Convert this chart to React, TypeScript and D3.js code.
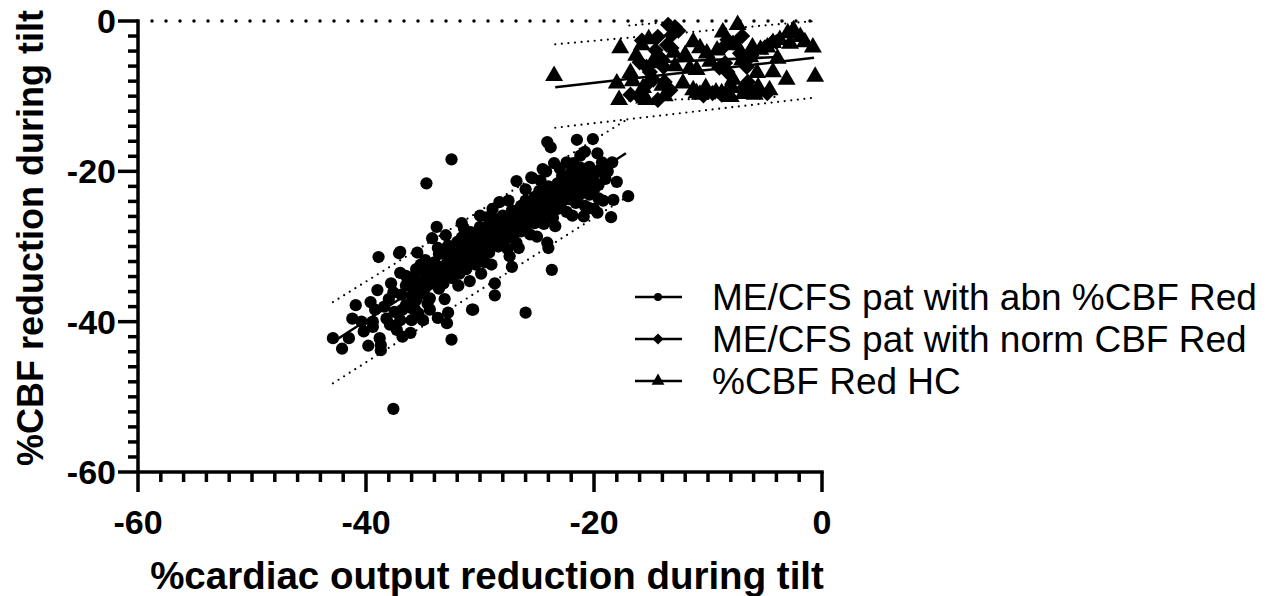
import React from 'react';
import * as d3 from 'd3';

// ME/CFS patients with abnormal %CBF reduction (circles)
const abnPoints: [number, number][] = [
  [-42.9, -42.2], [-42.1, -43.6], [-41.5, -42.2], [-39.8, -43.2], [-38.8, -42.2], [-38.7, -43.1],
  [-38.7, -43.8], [-37.6, -51.6], [-40.9, -37.8], [-40.4, -40.0], [-39.4, -40.0], [-39.4, -40.7],
  [-39.6, -37.4], [-39.2, -38.4], [-39.0, -35.8], [-37.8, -34.9], [-37.0, -33.5], [-37.5, -38.7],
  [-36.8, -38.4], [-37.3, -41.1], [-36.8, -42.0], [-36.1, -41.5], [-37.0, -39.8], [-36.0, -39.8],
  [-35.0, -39.8], [-35.7, -38.4], [-34.4, -38.4], [-33.7, -39.5], [-32.9, -40.2], [-32.8, -38.8],
  [-30.7, -38.4], [-38.9, -31.4], [-37.1, -30.9], [-37.0, -30.7], [-36.0, -34.1], [-35.4, -36.0],
  [-35.3, -34.7], [-32.5, -42.4], [-28.7, -34.9], [-28.7, -36.5], [-27.2, -32.7], [-26.0, -38.8],
  [-41.2, -39.6], [-40.2, -41.3], [-38.2, -39.6], [-38.0, -37.0], [-30.6, -38.4],
  [-32.5, -18.4], [-34.7, -21.6], [-24.1, -16.1], [-23.8, -16.8], [-21.5, -15.8], [-20.1, -15.7],
  [-20.8, -17.4], [-19.7, -17.6], [-19.3, -18.8], [-18.4, -18.8], [-18.0, -21.4], [-18.3, -23.8],
  [-17.0, -23.3], [-18.5, -26.1], [-19.7, -25.5], [-20.4, -24.9], [-26.8, -21.3], [-25.5, -20.8],
  [-28.3, -24.1], [-24.1, -29.5], [-24.0, -30.2], [-23.7, -33.1], [-33.8, -27.4], [-31.6, -26.9],
  [-34.2, -28.9], [-33.7, -30.2], [-29.3, -26.1], [-25.4, -20.9], [-24.7, -21.2], [-24.2, -20.0],
  [-23.5, -18.9], [-22.4, -18.8], [-21.8, -18.9],
  [-36.5, -35.2], [-36.5, -37.8], [-36.5, -33.9], [-36.0, -36.6], [-36.0, -34.5], [-36.0, -38.2],
  [-35.6, -33.0], [-35.6, -35.9], [-35.6, -37.1], [-35.2, -34.8], [-35.2, -32.4], [-35.2, -36.3],
  [-34.8, -33.6], [-34.8, -35.5], [-34.8, -31.8], [-34.4, -35.0], [-34.4, -33.2], [-34.4, -36.9],
  [-34.0, -32.1], [-34.0, -34.4], [-34.0, -33.5], [-33.6, -31.0], [-33.6, -33.8], [-33.6, -35.6],
  [-33.2, -32.6], [-33.2, -30.4], [-33.2, -34.9], [-32.8, -33.5], [-32.8, -31.7], [-32.8, -29.9],
  [-32.4, -30.8], [-32.4, -32.9], [-32.4, -34.2], [-32.0, -31.5], [-32.0, -29.4], [-32.0, -33.3],
  [-31.6, -32.0], [-31.6, -30.2], [-31.6, -28.8], [-31.2, -30.9], [-31.2, -33.0], [-31.2, -29.0],
  [-30.8, -29.8], [-30.8, -31.6], [-30.8, -28.1], [-30.4, -30.5], [-30.4, -32.4], [-30.4, -28.6],
  [-30.0, -29.1], [-30.0, -31.0], [-30.0, -27.4], [-29.6, -30.2], [-29.6, -28.3], [-29.6, -32.1],
  [-29.2, -28.9], [-29.2, -27.0], [-29.2, -30.8], [-28.8, -29.6], [-28.8, -27.8], [-28.8, -26.3],
  [-28.4, -28.3], [-28.4, -30.0], [-28.4, -26.8], [-28.0, -27.5], [-28.0, -29.2], [-28.0, -25.9],
  [-27.6, -28.1], [-27.6, -26.4], [-27.6, -30.3], [-27.2, -26.9], [-27.2, -28.8], [-27.2, -25.2],
  [-26.8, -27.4], [-26.8, -25.8], [-26.8, -29.5], [-26.4, -26.2], [-26.4, -24.6], [-26.4, -28.0],
  [-26.0, -25.3], [-26.0, -27.6], [-26.0, -23.9], [-25.6, -26.0], [-25.6, -24.4], [-25.6, -28.4],
  [-25.2, -25.1], [-25.2, -23.4], [-25.2, -26.9], [-24.8, -24.2], [-24.8, -26.3], [-24.8, -22.6],
  [-24.4, -25.0], [-24.4, -23.1], [-24.4, -27.0], [-24.0, -23.8], [-24.0, -22.0], [-24.0, -25.7],
  [-23.6, -24.5], [-23.6, -22.7], [-23.6, -26.2], [-23.2, -23.0], [-23.2, -21.6], [-23.2, -25.0],
  [-22.8, -22.2], [-22.8, -24.0], [-22.8, -20.6], [-22.4, -23.3], [-22.4, -21.2], [-22.4, -25.4],
  [-22.0, -21.6], [-22.0, -23.4], [-22.0, -20.1], [-21.6, -22.5], [-21.6, -20.8], [-21.6, -24.2],
  [-21.2, -21.0], [-21.2, -23.0], [-21.2, -19.5], [-20.8, -22.0], [-20.8, -20.2], [-20.8, -24.6],
  [-20.4, -21.3], [-20.4, -19.4], [-20.4, -23.1], [-20.0, -20.5], [-20.0, -22.4], [-20.0, -25.0],
  [-19.6, -21.8], [-19.6, -19.9], [-19.6, -23.6],
  [-35.8, -36.0], [-35.8, -34.0], [-35.0, -35.4], [-35.0, -33.1], [-34.2, -34.6], [-34.2, -32.7],
  [-33.4, -33.1], [-33.4, -35.0], [-32.6, -32.0], [-32.6, -34.0], [-31.8, -31.2], [-31.8, -33.6],
  [-31.0, -30.0], [-31.0, -32.2], [-30.2, -29.5], [-30.2, -31.4], [-29.4, -29.0], [-29.4, -30.9],
  [-28.6, -28.5], [-28.6, -26.9], [-27.8, -27.0], [-27.8, -28.9], [-27.0, -26.5], [-27.0, -28.2],
  [-26.2, -25.8], [-26.2, -27.1], [-25.4, -25.0], [-25.4, -26.7], [-24.6, -24.0], [-24.6, -25.6],
  [-23.8, -23.3], [-23.8, -24.9], [-23.0, -22.5], [-23.0, -24.2], [-22.2, -21.9], [-22.2, -23.7],
  [-21.4, -21.5], [-21.4, -23.4], [-20.6, -20.9], [-20.6, -22.8],
  [-36.9, -36.4], [-37.6, -36.1], [-38.4, -38.0], [-37.9, -40.4], [-35.4, -38.9], [-34.6, -37.6],
  [-33.1, -37.0], [-31.9, -35.2], [-30.9, -34.6], [-29.9, -33.6], [-29.0, -32.4], [-27.4, -31.3],
  [-26.6, -30.2], [-25.0, -28.7], [-23.4, -27.3], [-21.9, -25.9], [-20.9, -26.0], [-19.2, -23.9],
  [-19.0, -21.0], [-18.8, -20.0], [-33.0, -28.5], [-31.4, -27.6], [-30.0, -25.9], [-28.9, -25.0],
  [-27.5, -23.9], [-26.0, -22.4], [-24.5, -19.7], [-23.0, -19.6], [-21.2, -17.9], [-35.5, -30.8],
];

// ME/CFS patients with normal CBF reduction (diamonds)
const normPoints: [number, number][] = [
  [-12.9, -0.8], [-13.2, -1.9], [-13.6, -3.2], [-13.2, -3.6], [-14.4, -2.1], [-14.6, -3.9],
  [-16.0, -5.5], [-15.4, -6.1], [-15.1, -6.8], [-14.2, -4.9], [-13.9, -6.1], [-14.8, -7.8],
  [-13.8, -8.1], [-14.4, -10.5], [-16.8, -9.8], [-16.0, -10.1], [-9.6, -9.6], [-8.8, -9.8],
  [-8.5, -5.6], [-8.3, -6.8], [-7.8, -2.9], [-7.2, -4.3], [-6.6, -6.1], [-6.5, -8.1],
  [-6.8, -8.8], [-4.8, -9.6], [-4.4, -2.9], [-4.0, -2.8], [-8.3, -2.5],
  [-15.8, -2.6], [-13.5, -0.5], [-12.6, -1.3], [-14.0, -5.2], [-15.4, -8.5], [-13.3, -9.2],
  [-9.0, -6.2], [-8.6, -3.4], [-7.0, -2.0], [-6.2, -4.6], [-5.5, -9.4], [-10.4, -9.9], [-5.0, -3.5],
];

// healthy controls (triangles)
const hcPoints: [number, number][] = [
  [-23.5, -7.3], [-17.7, -3.6], [-18.0, -8.3], [-17.8, -10.5], [-16.8, -6.9], [-15.8, -3.2],
  [-15.4, -10.5], [-15.7, -8.9], [-10.7, -3.6], [-11.0, -9.6], [-12.2, -8.3], [-11.6, -6.3],
  [-10.1, -4.3], [-9.2, -3.9], [-8.7, -1.5], [-7.4, -0.5], [-6.1, -3.5], [-5.7, -6.9],
  [-6.1, -9.6], [-4.3, -6.8], [-3.1, -7.8], [-2.5, -1.2], [-1.9, -2.1], [-0.8, -3.5],
  [-0.6, -7.4], [-8.8, -9.6], [-7.9, -8.9], [-7.8, -7.8], [-4.8, -3.5], [-4.3, -2.9],
  [-3.7, -2.5], [-3.0, -1.6], [-11.3, -9.2], [-10.7, -9.8], [-8.1, -8.8], [-5.6, -8.8],
  [-5.9, -9.8], [-7.0, -5.2], [-16.3, -4.6], [-15.2, -2.4], [-14.9, -5.6], [-14.0, -8.6],
  [-16.6, -8.0], [-13.8, -10.0], [-15.6, -10.3], [-12.9, -6.0], [-12.0, -4.5], [-11.3, -2.8],
  [-10.2, -8.9], [-9.8, -5.4], [-9.3, -9.5], [-8.0, -10.1], [-6.9, -9.7], [-6.3, -4.8],
  [-5.4, -3.8], [-4.6, -9.2], [-3.9, -5.0], [-2.8, -3.0], [-1.5, -2.8], [-13.0, -4.2],
  [-11.0, -6.5], [-7.5, -3.2],
];

// fitted lines and 95% prediction bands (end points)
const abnFit: [number, number][] = [[-42.9, -42.7], [-17.2, -17.6]];
const abnUpper: [number, number][] = [[-42.9, -37.4], [-17.0, -13.0]];
const abnLower: [number, number][] = [[-42.9, -48.2], [-17.0, -23.3]];
const normFit: [number, number][] = [[-16.0, -5.6], [-4.0, -4.8]];
const normUpper: [number, number][] = [[-16.9, -0.6], [-12.4, 0.0]];
const normLower: [number, number][] = [[-16.9, -10.6], [-4.0, -10.1]];
const hcFit: [number, number][] = [[-23.4, -8.8], [-0.7, -4.9]];
const hcUpper: [number, number][] = [[-23.4, -3.1], [-0.7, 0.0]];
const hcLower: [number, number][] = [[-23.4, -14.2], [-0.7, -10.2]];

const xMajor = [-60, -40, -20, 0];
const yMajor = [0, -20, -40, -60];
const legendLabels = ['ME/CFS pat with abn %CBF Red', 'ME/CFS pat with norm CBF Red', '%CBF Red HC'];

const FONT = '"Liberation Sans", Arial, Helvetica, sans-serif';

export default function App() {
  const x = d3.scaleLinear().domain([-60, 0]).range([138, 822]);
  const y = d3.scaleLinear().domain([-60, 0]).range([472, 21]);
  const line = d3.line<[number, number]>().x(d => x(d[0])).y(d => y(d[1]));

  const circlePath = d3.symbol().type(d3.symbolCircle).size(118)()!;
  const diamondPath = d3.symbol().type(d3.symbolSquare).size(130)()!;
  const trianglePath = d3.symbol().type(d3.symbolTriangle).size(140)()!;
  const circleSm = d3.symbol().type(d3.symbolCircle).size(50)()!;
  const diamondSm = d3.symbol().type(d3.symbolSquare).size(62)()!;
  const triangleSm = d3.symbol().type(d3.symbolTriangle).size(72)()!;

  const minor = d3.range(-60, 0.1, 2);
  const bandStyle = { fill: 'none', stroke: '#000', strokeWidth: 2.2, strokeLinecap: 'round' as const, strokeDasharray: '0 6.6' };
  const fitStyle = { fill: 'none', stroke: '#000', strokeWidth: 2.5 };

  const legendY = [297, 339, 381];
  const legendMarks = [
    <path d={circleSm} />,
    <path d={diamondSm} transform="rotate(45)" />,
    <path d={triangleSm} />,
  ];

  return (
    <svg width={1273} height={596} style={{ position: 'absolute', left: 0, top: 0, background: '#fff' }}
      fontFamily={FONT}>
      <defs>
        <clipPath id="plot">
          <rect x={138} y={y(0) - 0.5} width={700} height={460} />
        </clipPath>
      </defs>

      {/* y = 0 reference line */}
      <line x1={x(-60) + 14} x2={x(0)} y1={y(0)} y2={y(0)} stroke="#000" strokeWidth={3.5}
        strokeLinecap="round" strokeDasharray="0 14" />

      {/* prediction bands */}
      <g clipPath="url(#plot)">
        {[abnUpper, abnLower, normUpper, normLower, hcUpper, hcLower].map((b, i) => (
          <path key={i} d={line(b)!} {...bandStyle} />
        ))}
      </g>

      {/* points */}
      <g fill="#000">
        {abnPoints.map((d, i) => (
          <path key={'a' + i} d={circlePath} transform={`translate(${x(d[0])},${y(d[1])})`} />
        ))}
        {hcPoints.map((d, i) => (
          <path key={'h' + i} d={trianglePath} transform={`translate(${x(d[0])},${y(d[1])})`} />
        ))}
        {normPoints.map((d, i) => (
          <path key={'n' + i} d={diamondPath} transform={`translate(${x(d[0])},${y(d[1])}) rotate(45)`} />
        ))}
      </g>

      {/* regression lines */}
      {[abnFit, normFit, hcFit].map((f, i) => (
        <path key={i} d={line(f)!} {...fitStyle} />
      ))}

      {/* axes */}
      <g stroke="#000" strokeWidth={3.5} strokeLinecap="butt">
        <line x1={x(-60)} x2={x(-60)} y1={y(0) - 1.75} y2={y(-60)} />
        <line x1={x(-60)} x2={x(0) + 1.75} y1={y(-60)} y2={y(-60)} />
        {minor.map(v => {
          const major = v % 20 === 0;
          return (
            <g key={v}>
              <line x1={x(v)} x2={x(v)} y1={y(-60)} y2={y(-60) + (major ? 20 : 10)} />
              <line x1={x(-60)} x2={x(-60) - (major ? 20 : 10)} y1={y(v)} y2={y(v)} />
            </g>
          );
        })}
      </g>

      {/* tick labels */}
      <g fontWeight="bold" fontSize={34} fill="#000">
        {xMajor.map(v => (
          <text key={'x' + v} x={x(v)} y={534} textAnchor="middle">{v}</text>
        ))}
        {yMajor.map(v => (
          <text key={'y' + v} x={116} y={y(v)} dy="0.35em" textAnchor="end">{v}</text>
        ))}
      </g>

      {/* axis titles */}
      <text x={487} y={589} textAnchor="middle" fontWeight="bold" fontSize={38.5}>
        %cardiac output reduction during tilt
      </text>
      <text transform="translate(43,238) rotate(-90)" textAnchor="middle" fontWeight="bold" fontSize={36}>
        %CBF reduction during tilt
      </text>

      {/* legend */}
      {legendLabels.map((lab, i) => (
        <g key={lab}>
          <line x1={635} x2={682} y1={legendY[i]} y2={legendY[i]} stroke="#000" strokeWidth={2.5} />
          <g transform={`translate(658,${legendY[i]})`} fill="#000">{legendMarks[i]}</g>
          <text x={712} y={legendY[i]} dy="0.35em" fontSize={37}>{lab}</text>
        </g>
      ))}
    </svg>
  );
}
